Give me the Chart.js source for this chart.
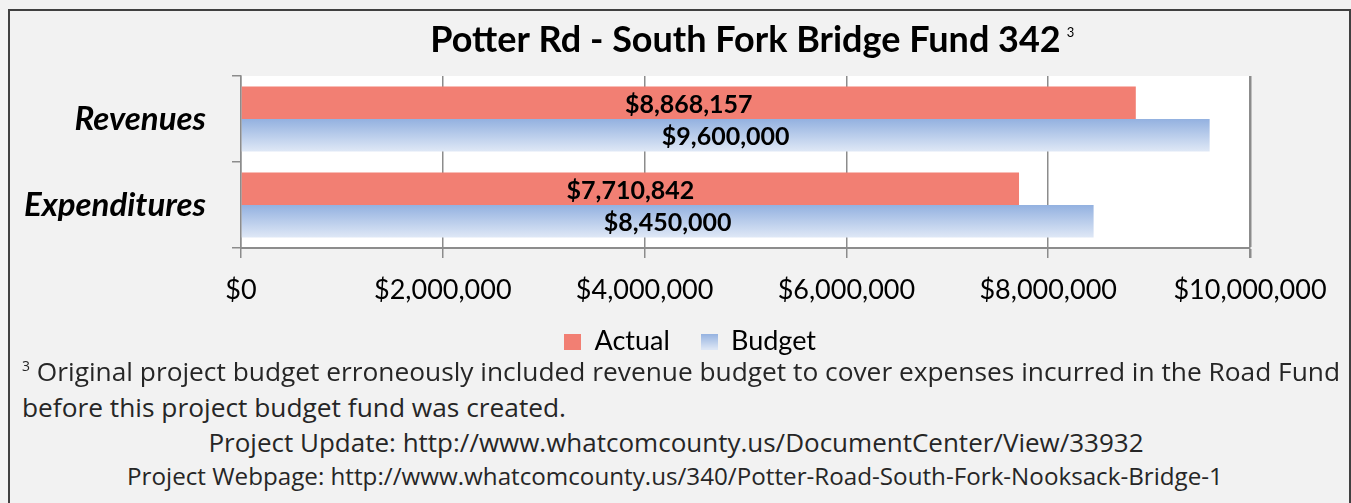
<!DOCTYPE html>
<html>
<head>
<meta charset="utf-8">
<script src="https://cdn.jsdelivr.net/npm/chart.js@4.4.4/dist/chart.umd.min.js"></script>
<style>
  html, body { margin: 0; padding: 0; background: #f2f2f2; }
  #frame { position: relative; width: 1351px; height: 503px; background: #f2f2f2; overflow: hidden; }
  #plot { position: absolute; left: 0; top: 0; width: 1380px; height: 365px; }
  #frame .edge { position: absolute; left: 8px; top: 9px; width: 1343px; height: 540px; border: 2px solid #404040; box-sizing: border-box; pointer-events: none; }
  .note { position: absolute; font-family: "Open Sans", sans-serif; font-size: 26.3px; color: #262626; white-space: nowrap; line-height: 1; transform: translateY(-50%); }
  .note.mid { transform: translate(-50%, -50%); }
  .note sup { font-size: 14px; vertical-align: 10px; }
</style>
</head>
<body>
<div id="frame">
  <div id="plot"><canvas id="chart"></canvas></div>
  <div class="note" style="left:22px; top:371px;"><sup>3</sup> Original project budget erroneously included revenue budget to cover expenses incurred in the Road Fund</div>
  <div class="note" style="left:22px; top:407px;">before this project budget fund was created.</div>
  <div class="note mid" style="left:676px; top:442px; font-size:26px;">Project Update: http://www.whatcomcounty.us/DocumentCenter/View/33932</div>
  <div class="note mid" style="left:675px; top:476px; font-size:24.2px;">Project Webpage: http://www.whatcomcounty.us/340/Potter-Road-South-Fork-Nooksack-Bridge-1</div>
  <div class="edge"></div>
</div>
<script>
// fund 342 totals
const categories = ['Revenues', 'Expenditures'];
const seriesNames = ['Actual', 'Budget'];
const actual = [8868157, 7710842];
const budget = [9600000, 8450000];
const xTicks = [0, 2000000, 4000000, 6000000, 8000000, 10000000];

const titleText = 'Potter Rd - South Fork Bridge Fund 342';
const titleNote = '3';

const RED = '#f27f73';
const BLUE_TOP = '#93b1e0';
const BLUE_BOTTOM = '#dfe8f6';
const GRID = '#8c8c8c';
const catPct = 0.756;

const money = v => '$' + v.toLocaleString('en-US');

// budget bars shade from darker blue at the top to pale at the bottom
function budgetFill(ctx) {
  const chart = ctx.chart;
  const y = chart.scales.y;
  if (!chart.chartArea || !y || ctx.dataIndex === undefined || !y.height) return '#bccfee';
  const slot = y.height / categories.length;
  const top = y.getPixelForValue(ctx.dataIndex);
  const bottom = top + slot * catPct / 2;
  const g = chart.ctx.createLinearGradient(0, top, 0, bottom);
  g.addColorStop(0, BLUE_TOP);
  g.addColorStop(1, BLUE_BOTTOM);
  return g;
}

function swatch(i) {
  const c = document.createElement('canvas');
  c.width = 17; c.height = 16;
  const x = c.getContext('2d');
  if (i === 0) {
    x.fillStyle = RED;
  } else {
    const g = x.createLinearGradient(0, 0, 0, 16);
    g.addColorStop(0, BLUE_TOP);
    g.addColorStop(1, BLUE_BOTTOM);
    x.fillStyle = g;
  }
  x.fillRect(0, 0, 17, 16);
  return c;
}

const plotBackground = {
  id: 'plotBackground',
  beforeDraw(chart) {
    const { ctx, chartArea: a } = chart;
    ctx.save();
    ctx.fillStyle = '#ffffff';
    ctx.fillRect(a.left, a.top, a.right - a.left, a.bottom - a.top);
    ctx.restore();
  }
};

const valueLabels = {
  id: 'valueLabels',
  afterDatasetsDraw(chart) {
    const { ctx } = chart;
    ctx.save();
    ctx.font = 'bold 25px Lato';
    ctx.fillStyle = '#000';
    ctx.textAlign = 'center';
    ctx.textBaseline = 'middle';
    chart.data.datasets.forEach((ds, di) => {
      chart.getDatasetMeta(di).data.forEach((bar, i) => {
        ctx.fillText(money(ds.data[i]), (bar.x + bar.base) / 2, bar.y + 2);
      });
    });
    ctx.restore();
  }
};

const titleWithNote = {
  id: 'titleWithNote',
  afterDraw(chart) {
    const { ctx, chartArea: a } = chart;
    const cx = (a.left + a.right) / 2;
    ctx.save();
    ctx.fillStyle = '#000';
    ctx.textBaseline = 'alphabetic';
    ctx.font = 'bold 36px Lato';
    const w = ctx.measureText(titleText).width;
    ctx.textAlign = 'left';
    ctx.fillText(titleText, cx - w / 2, 52);
    ctx.font = '13px Lato';
    ctx.fillText(titleNote, cx + w / 2 + 6, 37);
    ctx.restore();
  }
};

function build() {
  new Chart(document.getElementById('chart'), {
    type: 'bar',
    data: {
      labels: categories,
      datasets: [
        { label: seriesNames[0], data: actual, backgroundColor: RED },
        { label: seriesNames[1], data: budget, backgroundColor: budgetFill }
      ]
    },
    options: {
      indexAxis: 'y',
      responsive: true,
      maintainAspectRatio: false,
      animation: false,
      events: [],
      layout: { padding: { left: 0, right: 0, top: 76, bottom: 0 } },
      datasets: { bar: { categoryPercentage: catPct, barPercentage: 1, borderWidth: 0 } },
      scales: {
        x: {
          min: xTicks[0],
          max: xTicks[xTicks.length - 1],
          afterBuildTicks: s => { s.ticks = xTicks.map(v => ({ value: v })); },
          afterFit: s => { s.height = 70; },
          grid: {
            color: GRID,
            lineWidth: c => (c.index === xTicks.length - 1 ? 2.5 : 1.5),
            tickLength: 10,
            drawTicks: true
          },
          border: { color: GRID, width: 2 },
          ticks: { color: '#000', font: { family: 'Lato', size: 27 }, padding: 16, maxRotation: 0, callback: v => money(v) }
        },
        y: {
          afterFit: s => { s.width = 241; },
          grid: { offset: true, drawOnChartArea: false, color: GRID, lineWidth: 1.5, tickLength: 9 },
          border: { color: GRID, width: 1.5 },
          ticks: { color: '#000', font: { family: 'Lato', size: 33, weight: 'bold', style: 'italic' }, padding: 26 }
        },
        // empty strip on the right so the legend sits centred under the whole frame
        side: {
          axis: 'y',
          type: 'linear',
          position: 'right',
          afterFit: s => { s.width = 130; },
          grid: { display: false },
          border: { display: false },
          ticks: { display: false }
        }
      },
      plugins: {
        title: { display: false },
        tooltip: { enabled: false },
        legend: {
          position: 'bottom',
          labels: {
            usePointStyle: true,
            boxWidth: 17,
            boxHeight: 16,
            padding: 10,
            color: '#000',
            font: { family: 'Lato', size: 27 },
            // trailing spaces widen the gap between the two entries
            generateLabels: chart => chart.data.datasets.map((ds, i) => ({
              text: i < chart.data.datasets.length - 1 ? ds.label + '   ' : ds.label,
              pointStyle: swatch(i),
              datasetIndex: i,
              fontColor: '#000',
              lineWidth: 0,
              strokeStyle: 'rgba(0,0,0,0)',
              hidden: false
            }))
          }
        }
      }
    },
    plugins: [plotBackground, valueLabels, titleWithNote]
  });
}

Promise.all([
  document.fonts.load('27px Lato'),
  document.fonts.load('bold 32px Lato'),
  document.fonts.load('italic bold 29px Lato'),
  document.fonts.load('24px "Open Sans"')
]).then(build, build);
</script>
</body>
</html>
